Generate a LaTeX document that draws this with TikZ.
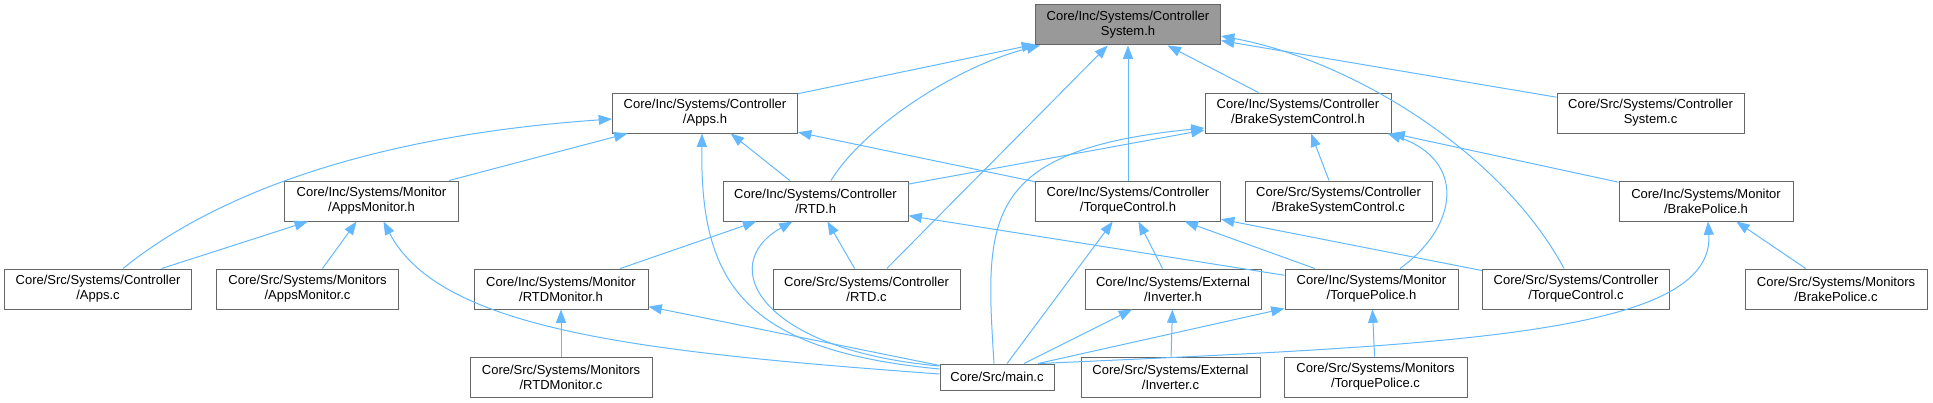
\documentclass[tikz,border=0pt]{standalone}
\usepackage{fontspec}
\setmainfont{Liberation Sans}
\usetikzlibrary{arrows.meta,calc}
\definecolor{edgeblue}{HTML}{63B8FF}
\definecolor{boxline}{HTML}{666666}
\definecolor{rootfill}{HTML}{999999}
\begin{document}
\begin{tikzpicture}[x=0.75pt,y=-0.75pt,
  box/.style={draw=boxline, line width=0.75pt, fill=white, inner sep=0pt, align=center,
    minimum height=30pt, font=\fontsize{9.75pt}{11.25pt}\selectfont},
  bw/.style={minimum width={#1*0.75pt}},
  root/.style={box, fill=rootfill},
  arr/.style={draw=edgeblue, line width=0.75pt, -{Triangle[length=10pt,width=7.5pt]}}]
\useasboundingbox (0,0) rectangle (1933,403);
% row 0
\node[root,bw=185] (cs) at (1128,25) {Core/Inc/Systems/Controller\\System.h};
% row 1
\node[box,bw=185] (apph) at (705,113) {Core/Inc/Systems/Controller\\/Apps.h};
\node[box,bw=186] (bsch) at (1298,113) {Core/Inc/Systems/Controller\\/BrakeSystemControl.h};
\node[box,bw=187] (csc) at (1650.5,113) {Core/Src/Systems/Controller\\System.c};
% row 2
\node[box,bw=174] (amh) at (371.5,201) {Core/Inc/Systems/Monitor\\/AppsMonitor.h};
\node[box,bw=185] (rtdh) at (815.5,201) {Core/Inc/Systems/Controller\\/RTD.h};
\node[box,bw=185] (tch) at (1128,201) {Core/Inc/Systems/Controller\\/TorqueControl.h};
\node[box,bw=187] (bscc) at (1338.5,201) {Core/Src/Systems/Controller\\/BrakeSystemControl.c};
\node[box,bw=174] (bph) at (1706,201) {Core/Inc/Systems/Monitor\\/BrakePolice.h};
% row 3
\node[box,bw=187] (appsc) at (98,289) {Core/Src/Systems/Controller\\/Apps.c};
\node[box,bw=182] (amc) at (307.5,289) {Core/Src/Systems/Monitors\\/AppsMonitor.c};
\node[box,bw=174] (rmh) at (561,289) {Core/Inc/Systems/Monitor\\/RTDMonitor.h};
\node[box,bw=187] (rtdc) at (866.5,289) {Core/Src/Systems/Controller\\/RTD.c};
\node[box,bw=176] (invh) at (1173,289) {Core/Inc/Systems/External\\/Inverter.h};
\node[box,bw=173] (tph) at (1371.5,289) {Core/Inc/Systems/Monitor\\/TorquePolice.h};
\node[box,bw=187] (tcc) at (1576,289) {Core/Src/Systems/Controller\\/TorqueControl.c};
\node[box,bw=182] (bpc) at (1836,289) {Core/Src/Systems/Monitors\\/BrakePolice.c};
% row 4
\node[box,bw=182] (rmc) at (561,377) {Core/Src/Systems/Monitors\\/RTDMonitor.c};
\node[box,bw=114,minimum height=19.5pt] (mainc) at (997,377) {Core/Src/main.c};
\node[box,bw=179] (invc) at (1170.5,377) {Core/Src/Systems/External\\/Inverter.c};
\node[box,bw=183] (tpc) at (1375.5,377) {Core/Src/Systems/Monitors\\/TorquePolice.c};
% edges to ControllerSystem.h
\draw[arr] (apph) -- (cs);
\draw[arr] ($(rtdh.north)+(15.5,0)$) .. controls (865,125) and (960,65) .. ($(cs.south west)+(5,0)$);
\draw[arr] (rtdc) -- (cs);
\draw[arr] (tch) -- (cs);
\draw[arr] (bsch) -- (cs);
\draw[arr] (csc) -- (cs);
\draw[arr] ($(tcc.north)+(-12,0)$) .. controls (1500,150) and (1350,60) .. ($(cs.east)+(0,11)$);
% edges to Apps.h
\draw[arr] ($(appsc.north)+(25,0)$) .. controls (220,190) and (380,135) .. ($(apph.west)+(0,6)$);
\draw[arr] (amh) -- (apph);
\draw[arr] (rtdh) -- (apph);
\draw[arr] (tch) -- (apph);
\draw[arr] ($(mainc.west)+(0,-8)$) .. controls (740,350) and (700,280) .. ($(apph.south)+(-3,0)$);
% edges to BrakeSystemControl.h
\draw[arr] (rtdh) -- (bsch);
\draw[arr] ($(mainc.north)+(-3,0)$) .. controls (985,220) and (980,150) .. ($(bsch.west)+(0,15)$);
\draw[arr] ($(bscc.north)+(-9.5,0)$) -- ($(bsch.south)+(13,0)$);
\draw[arr] ($(tph.north)+(28.5,0)$) .. controls (1460,225) and (1465,160) .. ($(bsch.south east)+(-4,0)$);
\draw[arr] (bph) -- (bsch);
% edges to AppsMonitor.h
\draw[arr] (appsc) -- (amh);
\draw[arr] (amc) -- (amh);
\draw[arr] ($(mainc.west)+(0,-3)$) .. controls (640,352) and (440,330) .. ($(amh.south)+(12,0)$);
% edges to RTD.h
\draw[arr] (rmh) -- (rtdh);
\draw[arr] ($(mainc.west)+(0,-11)$) .. controls (760,350) and (715,265) .. ($(rtdh.south)+(-23,0)$);
\draw[arr] (rtdc) -- (rtdh);
\draw[arr] (tph) -- (rtdh);
% edges to TorqueControl.h
\draw[arr] (mainc) -- (tch);
\draw[arr] (invh) -- (tch);
\draw[arr] (tph) -- (tch);
\draw[arr] (tcc) -- (tch);
% edges to BrakePolice.h
\draw[arr] (bpc) -- (bph);
\draw[arr] ($(mainc.north)+(43,0)$) .. controls (1450,345) and (1715,335) .. ($(bph.south)+(2,0)$);
% edges to RTDMonitor.h
\draw[arr] (rmc) -- (rmh);
\draw[arr] (mainc) -- (rmh);
% edges to Inverter.h
\draw[arr] (mainc) -- (invh);
\draw[arr] (invc) -- (invh);
% edges to TorquePolice.h
\draw[arr] ($(mainc.north)+(41,0)$) -- (tph);
\draw[arr] (tpc) -- (tph);
\end{tikzpicture}
\end{document}
